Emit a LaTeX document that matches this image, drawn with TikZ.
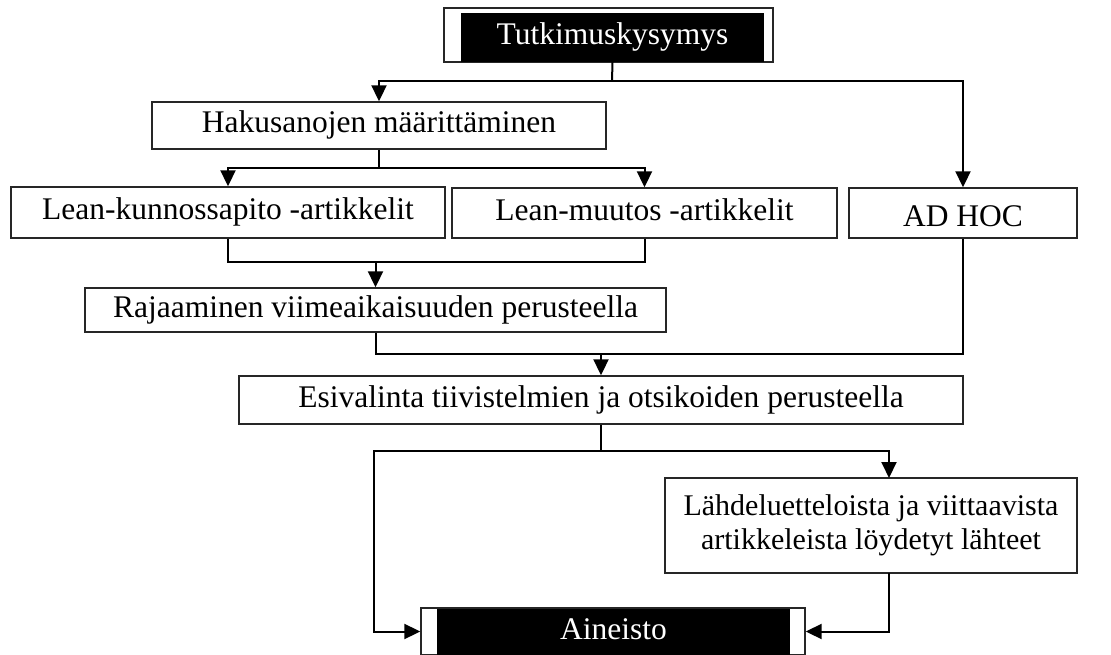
\documentclass[tikz,border=0pt]{standalone}
\usepackage{fontspec}
\setmainfont{Liberation Serif}
\usetikzlibrary{arrows.meta}
\begin{document}
\begin{tikzpicture}[x=1pt,y=-1pt,
  box/.style={draw=black!85, line width=1.4pt, fill=white, inner sep=0pt,
    font=\fontsize{31.5}{37}\selectfont, text height=21pt, text depth=6pt},
  twoline/.style={box, align=center, text height=, text depth=,
    font=\fontsize{30}{34}\selectfont},
  dark/.style={fill=black, text=white, inner sep=0pt,
    font=\fontsize{31.5}{37}\selectfont, text height=21pt, text depth=6pt},
  conn/.style={draw=black, line width=2pt},
  arr/.style={conn, -{Triangle[length=16pt,width=15pt]}}]
\useasboundingbox (0,0) rectangle (1111,655);

% framed title box with a dark band inside
\node[box, minimum width=329pt, minimum height=54pt] (tk) at (608.5,35) {};
\node[dark, minimum width=303pt, minimum height=49pt] (tkin) at (612.5,37.5) {Tutkimuskysymys};

% search steps
\node[box, minimum width=454pt, minimum height=47pt] (hak) at (379,125.5) {Hakusanojen määrittäminen};
\node[box, minimum width=434pt, minimum height=51pt] (lk) at (228,212.5) {Lean-kunnossapito -artikkelit};
\node[box, minimum width=385pt, minimum height=50pt] (lm) at (644.5,213) {Lean-muutos -artikkelit};
\node[box, minimum width=228pt, minimum height=50pt] (adhoc) at (963,213) {\raisebox{-6pt}{AD HOC}};
\node[box, minimum width=581pt, minimum height=44pt] (raj) at (375.5,310) {Rajaaminen viimeaikaisuuden perusteella};
\node[box, minimum width=724pt, minimum height=48pt] (esi) at (601,400) {Esivalinta tiivistelmien ja otsikoiden perusteella};
\node[twoline, minimum width=412pt, minimum height=95pt] (lah) at (871,525.5) {Lähdeluetteloista ja viittaavista\\artikkeleista löydetyt lähteet};

% framed result box with a dark band inside
\node[box, minimum width=384pt, minimum height=47pt] (ain) at (613,631.5) {};
\node[dark, minimum width=353pt, minimum height=46pt] (ainin) at (613.5,631.5) {Aineisto};

% junction points
\coordinate (j1) at (612,81);
\coordinate (j2) at (379,168);
\coordinate (j3) at (375.5,262);
\coordinate (j4) at (601,354);
\coordinate (j5) at (601,451);
\coordinate (jl) at (374,631.5);
\coordinate (lahin) at (889,478);
\coordinate (lahout) at (889,573);

% connectors
\draw[conn] (tkin.south) -- (j1);
\draw[arr] (j1) -| (hak.north);
\draw[arr] (j1) -| (adhoc.north);

\draw[conn] (hak.south) -- (j2);
\draw[arr] (j2) -| (lk.north);
\draw[arr] (j2) -| (lm.north);

\draw[conn] (lk.south) |- (j3);
\draw[conn] (lm.south) |- (j3);
\draw[arr] (j3) -- (raj.north);

\draw[conn] (raj.south) |- (j4);
\draw[conn] (adhoc.south) |- (j4);
\draw[arr] (j4) -- (esi.north);

\draw[conn] (esi.south) -- (j5);
\draw[arr] (j5) -| (lahin);
\draw[arr] (j5) -| (jl) -- (ain.west);
\draw[arr] (lahout) |- (ain.east);
\end{tikzpicture}
\end{document}
